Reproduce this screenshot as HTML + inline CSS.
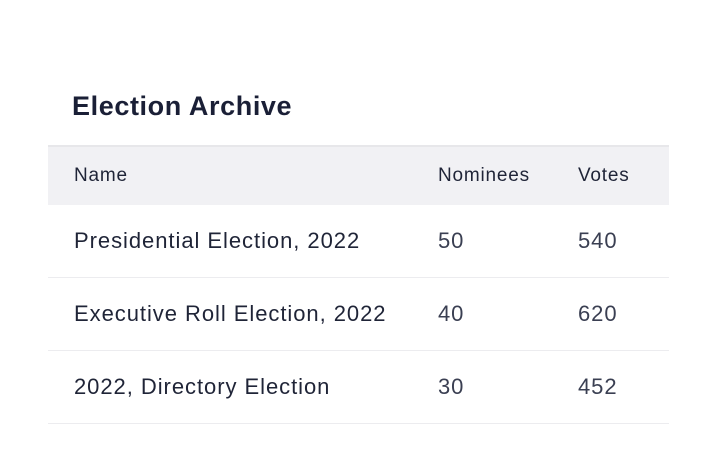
<!DOCTYPE html>
<html><head><meta charset="utf-8"><style>
body{margin:0;width:716px;height:472px;background:#fff;font-family:"Liberation Sans",sans-serif;position:relative;overflow:hidden}
.title{position:absolute;left:72px;top:91px;font-size:27px;font-weight:bold;color:#1a1f36;letter-spacing:0.6px}
.tbl{position:absolute;left:48px;top:145px;width:621px}
.hd{height:58px;background:#f1f1f4;border-top:2px solid #e7e7ea;position:relative;color:#1f2437;font-size:19px;letter-spacing:0.8px}
.row{height:72px;border-bottom:1px solid #ececef;position:relative;color:#1f2437;font-size:22px;letter-spacing:0.95px}
.c{position:absolute;top:50%;transform:translateY(-50%);white-space:nowrap}
.c1{left:26px}.c2{left:390px}.c3{left:530px}
.row .c2,.row .c3{color:#3a3f52}
</style></head><body>
<div class="title">Election Archive</div>
<div class="tbl">
<div class="hd">
<span class="c c1">Name</span>
<span class="c c2">Nominees</span>
<span class="c c3">Votes</span>
</div>
<div class="row">
<span class="c c1">Presidential Election, 2022</span>
<span class="c c2">50</span>
<span class="c c3">540</span>
</div>
<div class="row">
<span class="c c1">Executive Roll Election, 2022</span>
<span class="c c2">40</span>
<span class="c c3">620</span>
</div>
<div class="row">
<span class="c c1">2022, Directory Election</span>
<span class="c c2">30</span>
<span class="c c3">452</span>
</div>
</div>
</body></html>
